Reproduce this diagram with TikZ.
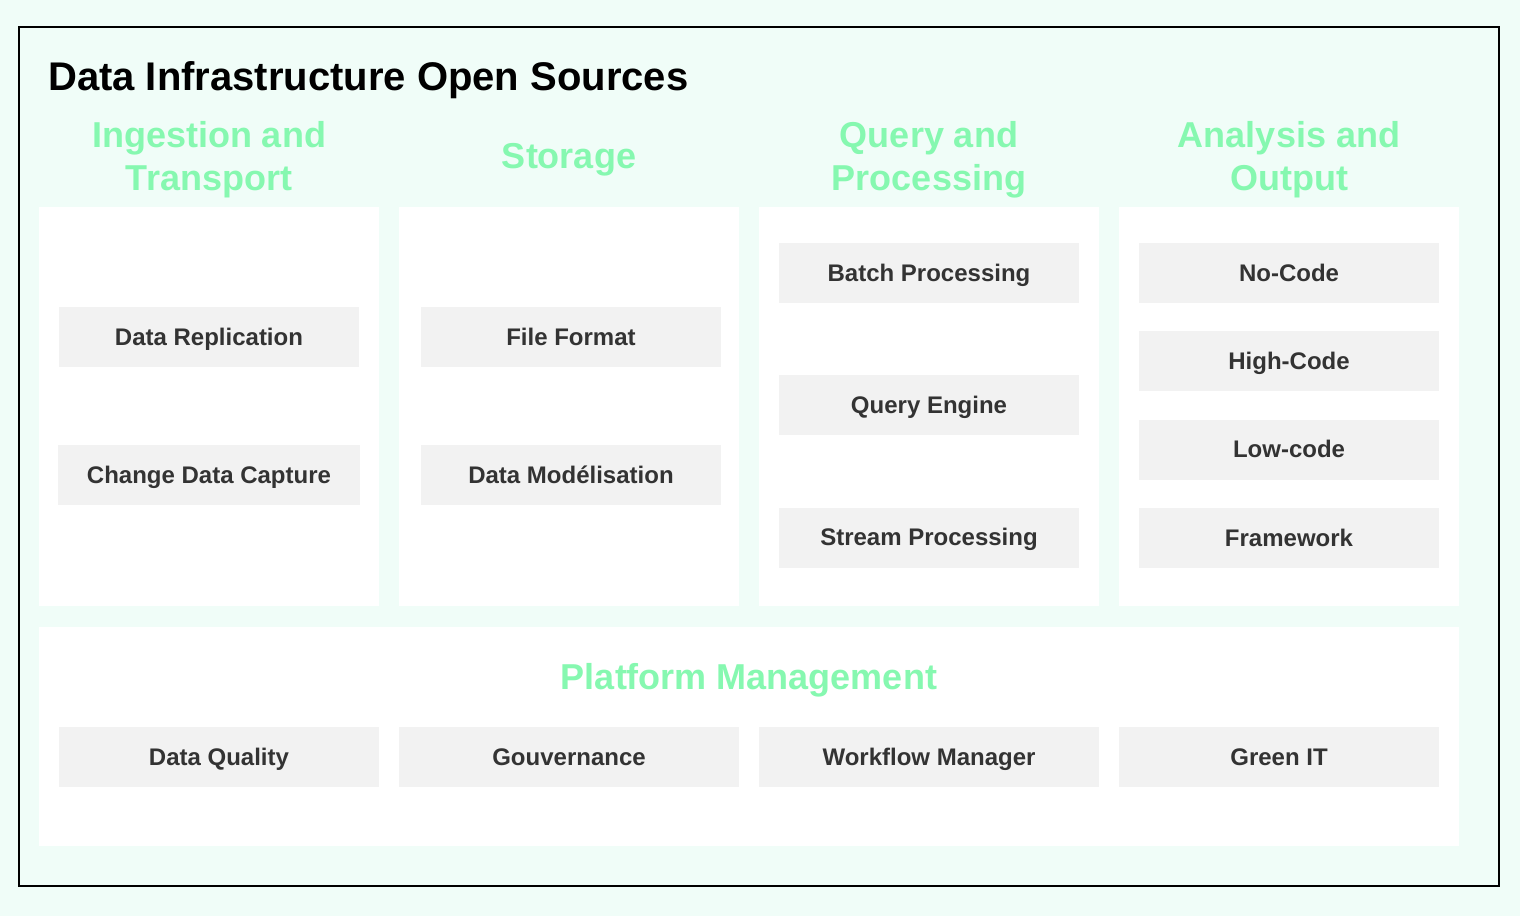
\documentclass[tikz,border=0pt]{standalone}
\usepackage{fontspec}
\setmainfont{Liberation Sans}
\usepackage{xcolor}
\usepackage{tikz}
\usetikzlibrary{positioning}

\definecolor{mintbg}{RGB}{240,253,248}
\definecolor{headgreen}{RGB}{134,248,176}
\definecolor{itemgray}{RGB}{242,242,242}
\definecolor{itemtext}{RGB}{51,51,51}

\begin{document}
\begin{tikzpicture}[x=1pt,y=-1pt,
  panel/.style={fill=white,inner sep=0pt,anchor=north west},
  head/.style={text=headgreen,align=center,font=\fontsize{36}{43}\selectfont\bfseries},
  item/.style={fill=itemgray,text=itemtext,minimum width=300pt,minimum height=60pt,
    inner xsep=29pt,text height=20pt,text depth=4pt,font=\fontsize{24}{28}\selectfont\bfseries}]
\fill[mintbg] (0,0) rectangle (1520,916);
\draw[line width=2pt] (19,27) rectangle (1499,886);

\node[anchor=base west,inner sep=0pt,font=\fontsize{40}{48}\selectfont\bfseries] (title) at (48,90) {Data Infrastructure Open Sources};

% columns
\node[panel,minimum width=340pt,minimum height=399pt] (ingest) at (39,207) {};
\node[panel,minimum width=340pt,minimum height=399pt] (storage) at (399,207) {};
\node[panel,minimum width=340pt,minimum height=399pt] (query) at (759,207) {};
\node[panel,minimum width=340pt,minimum height=399pt] (analysis) at (1119,207) {};
\node[panel,minimum width=1420pt,minimum height=219pt] (platform) at (39,627) {};

\node[head] (hingest) at (209,160) {Ingestion and\\Transport};
\node[head] (hstorage) at (569,160) {Storage};
\node[head] (hquery) at (929,160) {Query and\\Processing};
\node[head] (hanalysis) at (1289,160) {Analysis and\\Output};
\node[head,anchor=base] (hplatform) at (749,689) {Platform Management};

\node[item] (replication) at (209,337) {Data Replication};
\node[item,below=78pt of replication] (cdc) {Change Data Capture};

\node[item] (fileformat) at (571,337) {File Format};
\node[item,below=78pt of fileformat] (modelisation) {Data Modélisation};

\node[item] (batch) at (929,273) {Batch Processing};
\node[item,below=72pt of batch] (engine) {Query Engine};
\node[item,below=72pt of engine] (stream) {Stream Processing};

\node[item] (nocode) at (1289,273) {No-Code};
\node[item,below=28pt of nocode] (highcode) {High-Code};
\node[item,below=28pt of highcode] (lowcode) {Low-code};
\node[item,below=28pt of lowcode] (framework) {Framework};

\node[item,minimum width=320pt] (quality) at (219,757) {Data Quality};
\node[item,minimum width=340pt] (gouvernance) at (569,757) {Gouvernance};
\node[item,minimum width=340pt] (workflow) at (929,757) {Workflow Manager};
\node[item,minimum width=320pt] (greenit) at (1279,757) {Green IT};
\end{tikzpicture}
\end{document}
